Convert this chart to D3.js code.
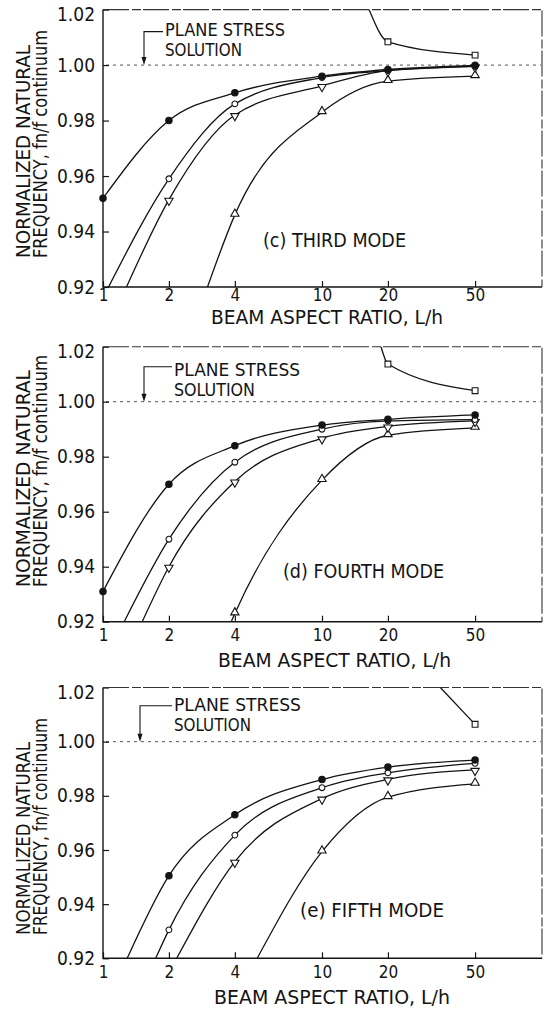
<!DOCTYPE html>
<html>
<head>
<meta charset="utf-8">
<script src="https://cdn.jsdelivr.net/npm/d3@7"></script>
<style>
  body { margin: 0; background: #fff; }
  svg text { font-family: 'DejaVu Sans Condensed', 'DejaVu Sans', sans-serif; font-stretch: condensed; fill: #141414; }
</style>
</head>
<body>
<svg id="chart" width="548" height="1009"></svg>
<script>
// 値
const ratios = [1, 2, 4, 10, 20, 50];
const xTicks = [1, 2, 4, 10, 20, 50];
const yTicks = [0.92, 0.94, 0.96, 0.98, 1.00, 1.02];
const modeLabels = ['(c) THIRD MODE', '(d) FOURTH MODE', '(e) FIFTH MODE'];
const seriesKeys = ['solid', 'open', 'down', 'up', 'square'];

// third mode
const thirdSolid  = [0.952, 0.980, 0.990, 0.996, 0.9984, 0.9999];
const thirdOpen   = [null, 0.959, 0.986, 0.9955, 0.998, 0.9995];
const thirdDown   = [null, 0.9515, 0.982, 0.9925, 0.998, 0.9995];
const thirdUp     = [null, null, 0.946, 0.983, 0.9942, 0.996];
const thirdSquare = [null, null, null, null, 1.0084, 1.0036];
// 枠の外から入ってくる曲線の端 [L/h, 値]
const thirdStart  = [null, [1.06, 0.92], [1.28, 0.92], [3.0, 0.92], [16.4, 1.02]];

// fourth mode
const fourthSolid  = [0.931, 0.970, 0.984, 0.9915, 0.9936, 0.9952];
const fourthOpen   = [null, 0.950, 0.978, 0.990, 0.993, 0.9935];
const fourthDown   = [null, 0.940, 0.971, 0.9867, 0.991, 0.993];
const fourthUp     = [null, null, 0.923, 0.9715, 0.9878, 0.9905];
const fourthSquare = [null, null, null, null, 1.0137, 1.004];
const fourthStart  = [null, [1.25, 0.92], [1.51, 0.92], [3.85, 0.92], [18.6, 1.02]];

// fifth mode
const fifthSolid  = [null, 0.9505, 0.973, 0.986, 0.9906, 0.9932];
const fifthOpen   = [null, 0.9305, 0.9655, 0.983, 0.9885, 0.992];
const fifthDown   = [null, null, 0.9557, 0.979, 0.9861, 0.9896];
const fifthUp     = [null, null, null, 0.9594, 0.9795, 0.9844];
const fifthSquare = [null, null, null, null, null, 1.0064];
const fifthStart  = [[1.29, 0.92], [1.74, 0.92], [2.17, 0.92], [5.06, 0.92], [34.7, 1.02]];

const modes = [
  { values: [thirdSolid, thirdOpen, thirdDown, thirdUp, thirdSquare], start: thirdStart },
  { values: [fourthSolid, fourthOpen, fourthDown, fourthUp, fourthSquare], start: fourthStart },
  { values: [fifthSolid, fifthOpen, fifthDown, fifthUp, fifthSquare], start: fifthStart }
];

// レイアウト
const left = 103, right = 541;
const panels = [
  { top: 9.6, bottom: 287, leadX: 144, leadY: 31.6, noteX: 165, note1: 35.7, note2: 56, noteW: [120, 77],
    modeX: 263, modeY: 247, modeW: 143, yTitleB: 258, yTitleW: [213, 228],
    tickY: 301, titleY: 324, titleX: 211, titleW: 232 },
  { top: 346.7, bottom: 621.7, leadX: 144, leadY: 366.7, noteX: 174, note1: 375.7, note2: 396, noteW: [126, 81],
    modeX: 283, modeY: 578, modeW: 161, yTitleB: 587, yTitleW: [217, 232],
    tickY: 641, titleY: 667, titleX: 218, titleW: 233 },
  { top: 687.5, bottom: 958.3, leadX: 140, leadY: 705.7, noteX: 174, note1: 711, note2: 731, noteW: [127, 77],
    modeX: 300, modeY: 917, modeW: 144, yTitleB: 935, yTitleW: [193, 217],
    tickY: 978, titleY: 1004, titleX: 214, titleW: 236 }
];

const svg = d3.select('#chart');
const ink = '#141414';

const xscale = d3.scaleLog().domain([1, 100]).range([left, right]);

panels.forEach((p, i) => {
  const yscale = d3.scaleLinear().domain([0.92, 1.02]).range([p.bottom, p.top]);
  const g = svg.append('g');

  // clip
  g.append('clipPath').attr('id', 'clip' + i)
    .append('rect')
    .attr('x', left).attr('y', p.top)
    .attr('width', right - left).attr('height', p.bottom - p.top);

  // 1.00 の線 (plane stress)
  g.append('line')
    .attr('x1', left + 3).attr('x2', right)
    .attr('y1', yscale(1.0)).attr('y2', yscale(1.0))
    .attr('stroke', '#555').attr('stroke-width', 1)
    .attr('stroke-dasharray', '3,4');

  // axes
  const yaxis = d3.axisLeft(yscale).tickValues(yTicks).tickFormat(d3.format('.2f'))
    .tickSize(-6).tickPadding(8);
  const yg = g.append('g').attr('transform', `translate(${left},0)`).call(yaxis);
  yg.select('.domain').remove();
  yg.selectAll('line').attr('stroke', ink).attr('stroke-width', 1.2);
  yg.selectAll('text').style('font-size', '19px').attr('fill', ink)
    .attr('y', d => d === 1.02 ? 5 : 0);

  const xaxis = d3.axisBottom(xscale).tickValues(xTicks).tickFormat(d3.format('d')).tickSize(-6);
  const xg = g.append('g').attr('transform', `translate(0,${p.bottom})`).call(xaxis);
  xg.select('.domain').remove();
  xg.selectAll('line').attr('stroke', ink).attr('stroke-width', 1.2);
  xg.selectAll('text').style('font-size', '17px').attr('fill', ink)
    .attr('dy', 0).attr('y', p.tickY - p.bottom);

  // frame
  g.append('path')
    .attr('d', `M${left},${p.top}V${p.bottom}H${right + 1}`)
    .attr('fill', 'none').attr('stroke', ink).attr('stroke-width', 1.4);
  g.append('path')
    .attr('d', `M${left},${p.top}H${right + 1}V${p.bottom}`)
    .attr('fill', 'none').attr('stroke', '#333').attr('stroke-width', 1.1)
    .attr('stroke-dasharray', '26,3,9,2');

  // curves
  const m = modes[i];
  const line = d3.line()
    .x(d => xscale(d[0]))
    .y(d => yscale(d[1]))
    .curve(d3.curveMonotoneX);

  const plot = g.append('g').attr('clip-path', `url(#clip${i})`);
  const series = seriesKeys.map((key, k) => {
    const pts = ratios.map((r, j) => [r, m.values[k][j]]).filter(d => d[1] != null);
    const full = m.start[k] ? [m.start[k]].concat(pts) : pts;
    return { key, pts, full };
  });

  series.forEach(s => {
    plot.append('path')
      .datum(s.full)
      .attr('d', line)
      .attr('fill', 'none')
      .attr('stroke', ink)
      .attr('stroke-width', 1.3);
  });

  // markers
  const tri = d3.symbol().type(d3.symbolTriangle).size(30);
  const sq = d3.symbol().type(d3.symbolSquare).size(34);
  const order = ['square', 'up', 'down', 'open', 'solid'];
  order.forEach(key => {
    const s = series.find(d => d.key === key);
    const mk = g.append('g').selectAll('.mk').data(s.pts).join('path')
      .attr('class', 'mk')
      .attr('fill', key === 'solid' ? ink : '#fff')
      .attr('stroke', ink)
      .attr('stroke-width', 1.1);
    if (key === 'solid' || key === 'open') {
      const r = key === 'solid' ? 3.2 : 2.9;
      mk.attr('d', d3.symbol().type(d3.symbolCircle).size(Math.PI * r * r)())
        .attr('transform', d => `translate(${xscale(d[0])},${yscale(d[1])})`);
    } else if (key === 'square') {
      mk.attr('d', sq()).attr('transform', d => `translate(${xscale(d[0])},${yscale(d[1])})`);
    } else if (key === 'up') {
      mk.attr('d', tri()).attr('transform', d => `translate(${xscale(d[0])},${yscale(d[1]) - 1})`);
    } else {
      mk.attr('d', tri()).attr('transform', d => `translate(${xscale(d[0])},${yscale(d[1]) + 1}) rotate(180)`);
    }
  });

  // plane stress 注記
  const y1 = yscale(1.0);
  g.append('path')
    .attr('d', `M${p.noteX - 2},${p.leadY}H${p.leadX}V${y1 - 6}`)
    .attr('fill', 'none').attr('stroke', ink).attr('stroke-width', 1.1);
  g.append('path')
    .attr('d', `M${p.leadX - 2.5},${y1 - 8}L${p.leadX + 2.5},${y1 - 8}L${p.leadX},${y1}Z`)
    .attr('fill', ink);

  g.append('text').attr('x', p.noteX).attr('y', p.note1)
    .attr('textLength', p.noteW[0]).attr('lengthAdjust', 'spacingAndGlyphs')
    .style('font-size', '17px').text('PLANE STRESS');
  g.append('text').attr('x', p.noteX).attr('y', p.note2)
    .attr('textLength', p.noteW[1]).attr('lengthAdjust', 'spacingAndGlyphs')
    .style('font-size', '17px').text('SOLUTION');

  g.append('text').attr('x', p.modeX).attr('y', p.modeY)
    .attr('textLength', p.modeW).attr('lengthAdjust', 'spacingAndGlyphs')
    .style('font-size', '19px').text(modeLabels[i]);

  // axis titles
  g.append('text').attr('x', p.titleX).attr('y', p.titleY)
    .attr('textLength', p.titleW).attr('lengthAdjust', 'spacingAndGlyphs')
    .style('font-size', '19px').text('BEAM ASPECT RATIO, L/h');

  g.append('text')
    .attr('transform', `translate(30,${p.yTitleB}) rotate(-90)`)
    .attr('textLength', p.yTitleW[0]).attr('lengthAdjust', 'spacingAndGlyphs')
    .style('font-size', '20px').text('NORMALIZED NATURAL');
  g.append('text')
    .attr('transform', `translate(47,${p.yTitleB}) rotate(-90)`)
    .attr('textLength', p.yTitleW[1]).attr('lengthAdjust', 'spacingAndGlyphs')
    .style('font-size', '20px').text('FREQUENCY, fn/f continuum');
});
</script>
</body>
</html>
